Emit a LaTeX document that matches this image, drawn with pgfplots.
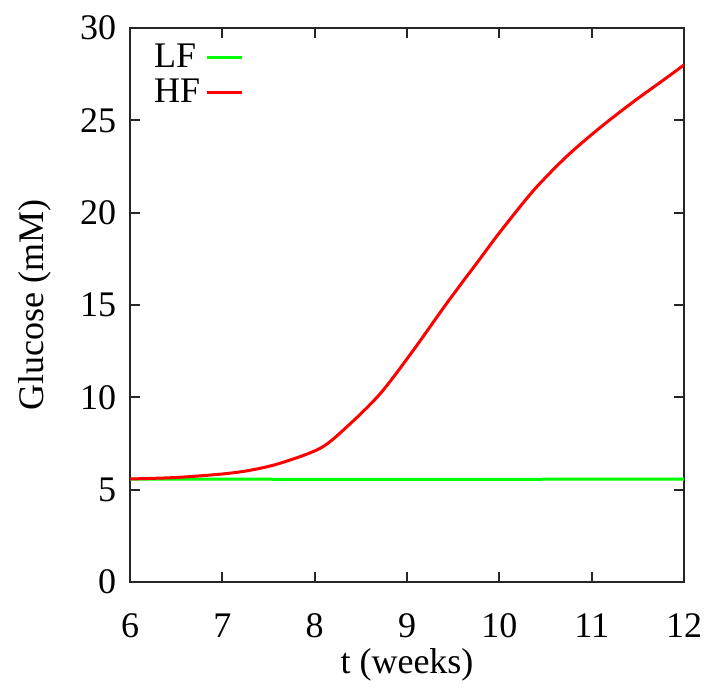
\documentclass[border=0pt]{standalone}
\usepackage{pgfplots}
\pgfplotsset{compat=1.18}
\usepackage{fontspec}
\setmainfont{Liberation Serif}
\definecolor{gpgreen}{RGB}{0,255,0}
\definecolor{gpred}{RGB}{255,0,0}
\begin{document}
\begin{tikzpicture}
\begin{axis}[
  name=ax,
  scale only axis,
  width=221.6pt, height=221.6pt,
  xmin=6, xmax=12, ymin=0, ymax=30,
  xtick={6,7,8,9,10,11,12},
  ytick={0,5,10,15,20,25,30},
  tick align=inside,
  major tick length=4pt,
  axis line style={line width=0.8pt, black!85},
  every tick/.style={line width=0.8pt, black!85},
  /pgf/number format/assume math mode=true,
  ticklabel style={font=\Large},
  xticklabel style={anchor=center, yshift=-17.5pt},
  yticklabel style={xshift=-2pt},
  label style={font=\Large},
  xlabel={t (weeks)},
  ylabel={Glucose (mM)},
  xlabel style={at={(axis description cs:0.5,0)}, anchor=center, yshift=-33pt},
  ylabel style={at={(axis description cs:0,0.5)}, anchor=center, yshift=38pt},
  legend plot pos=right,
  legend cell align=left,
  legend style={draw=none, fill=none, at={(0.02,0.99)}, anchor=north west,
    font=\Large, row sep=-1pt},
  legend image post style={line width=1.2pt},
  legend image code/.code={\draw[#1] (15pt,0cm) -- (29pt,0cm);},
]
\addplot[gpgreen, line width=1.2pt] coordinates {
(6,5.57) (7,5.57) (8,5.56) (9,5.56) (10,5.56) (11,5.57) (12,5.57)};
\addlegendentry{LF}
\addplot[gpred, line width=1.2pt, smooth] coordinates {
(6.0,5.58) (6.5,5.66) (7.0,5.85) (7.3,6.05) (7.625,6.43) (8.06,7.24) (8.35,8.41)
(8.71,10.2) (9.07,12.56) (9.43,15.09) (9.79,17.5) (10.01,18.97) (10.37,21.2)
(10.73,23.05) (11.09,24.6) (11.45,26.0) (11.81,27.3) (12.0,28.0)};
\addlegendentry{HF}
\end{axis}
\pgfresetboundingbox
\path[use as bounding box] ([xshift=-52pt,yshift=-42.4pt]ax.south west) rectangle ([xshift=13.2pt,yshift=11.2pt]ax.north east);
\end{tikzpicture}
\end{document}
